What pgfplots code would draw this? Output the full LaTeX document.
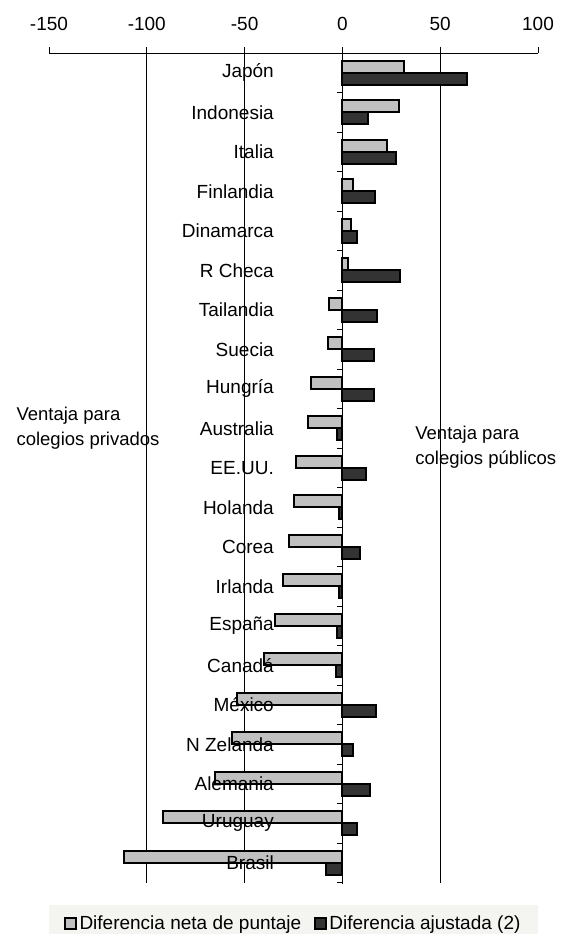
\documentclass[border=0pt]{standalone}
\usepackage{fontspec}
\setmainfont{Liberation Sans}
\usepackage{pgfplots}
\usepackage{pgfplotstable}
\pgfplotsset{compat=1.18}
\definecolor{lightbar}{HTML}{C0C0C0}
\definecolor{darkbar}{HTML}{333333}
\definecolor{legbg}{HTML}{F4F4F0}

\pgfplotstableread{
y light dark
21 31.6 63.8
20 28.8 13.3
19 22.8 27.2
18 5.2 16.8
17 4.2 7.6
16 2.8 29.3
15 -6.6 17.8
14 -7.3 16.3
13 -16.1 16.3
12 -17.7 -3.0
11 -23.6 12.2
10 -24.7 -1.5
9 -27.2 9.2
8 -30.2 -1.5
7 -34.6 -3.0
6 -40.1 -3.5
5 -54.1 17.3
4 -56.2 5.4
3 -65.1 14.3
2 -91.6 7.4
1 -111.6 -8.6
}\datatable

\begin{document}
\begin{tikzpicture}[font=\fontsize{19}{23}\selectfont]
\begin{axis}[
 axis on top,
 scale only axis, width=489pt, height=829.5pt,
 xbar, bar width=12pt,
 xmin=-150, xmax=100, ymin=0.5, ymax=21.5,
 axis x line*=top, axis y line*=left,
 y axis line style={draw=none},
 x axis line style={black, line width=0.9pt},
 xtick={-150,-100,-50,0,50,100},
 xticklabels={-150,-100,-50,0,50,100},
 xticklabel style={yshift=13pt},
 tick align=outside,
 major tick length=6pt,
 xtick style={black, line width=0.9pt},
 ytick={1,...,21},
 yticklabels={Brasil,Uruguay,Alemania,N Zelanda,México,Canadá,España,Irlanda,Corea,Holanda,EE.UU.,Australia,Hungría,Suecia,Tailandia,R Checa,Dinamarca,Finlandia,Italia,Indonesia,Japón},
 ytick style={draw=none},
 yticklabel style={anchor=east, inner sep=0pt, xshift=231pt},
 clip=false,
 legend columns=2,
 legend style={at={(0.5,0)}, anchor=north, yshift=-22.5pt, fill=legbg, draw=none,
   font=\fontsize{19}{23}\selectfont, inner xsep=15pt, inner ysep=9pt,
   /tikz/every even column/.append style={column sep=10pt},
   nodes={inner xsep=2.5pt}},
 legend image code/.code={\draw[#1, line width=2pt] (0pt,-5.5pt) rectangle (11pt,5.5pt);},
]
\draw[black, line width=0.9pt] (axis cs:-100,0.5) -- (axis cs:-100,21.5);
\draw[black, line width=0.9pt] (axis cs:-50,0.5) -- (axis cs:-50,21.5);
\draw[black, line width=0.9pt] (axis cs:50,0.5) -- (axis cs:50,21.5);
\draw[black, line width=1.1pt] (axis cs:0,0.45) -- (axis cs:0,21.5);
\addplot[fill=lightbar, draw=black, line width=2pt, bar shift=6pt] table[x=light,y=y]{\datatable};
\addlegendentry{Diferencia neta de puntaje}
\addplot[fill=darkbar, draw=black, line width=2pt, bar shift=-6pt] table[x=dark,y=y]{\datatable};
\addlegendentry{Diferencia ajustada (2)}
\pgfplotsinvokeforeach{0,...,20}{\draw[black, line width=0.9pt] (axis cs:0,#1.5) -- ++(-5pt,0pt);}
\node[anchor=west, align=left, font=\fontsize{18.5}{25}\selectfont] at (axis cs:-168.4,12.0) {Ventaja para\\colegios privados};
\node[anchor=west, align=left, font=\fontsize{18.5}{25}\selectfont] at (axis cs:35.5,11.52) {Ventaja para\\colegios públicos};
\coordinate (SW) at (rel axis cs:0,0);
\coordinate (NE) at (rel axis cs:1,1);
\end{axis}
\pgfresetboundingbox
\path[use as bounding box] ([shift={(-49pt,-51.5pt)}]SW) rectangle ([shift={(25pt,53pt)}]NE);
\end{tikzpicture}
\end{document}
